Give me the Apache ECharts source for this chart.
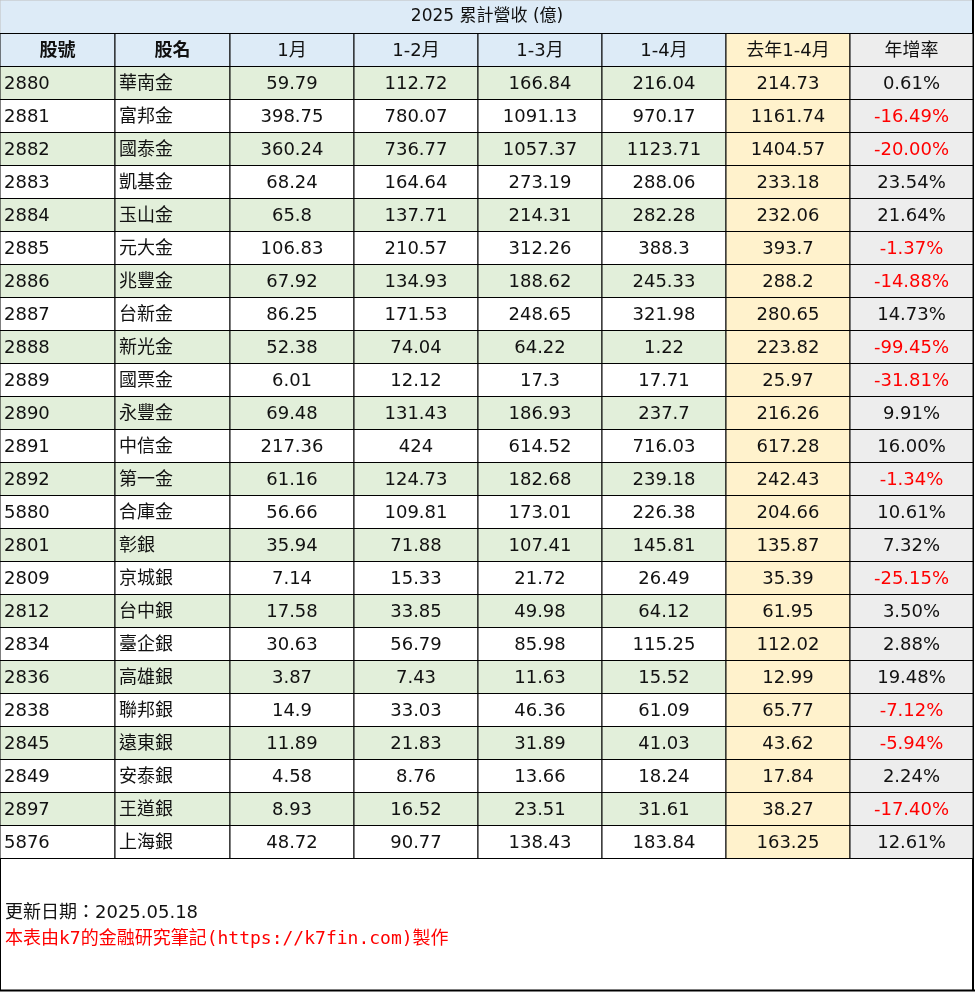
<!DOCTYPE html><html><head><meta charset="utf-8"><script src="https://cdn.jsdelivr.net/npm/echarts@6/dist/echarts.min.js"></script>
<style>html,body{margin:0;padding:0;background:#fff}#c{width:975px;height:992px}</style></head><body><div id="c"></div><script>
const title='2025 累計營收 (億)';
const headers=['股號','股名','1月','1-2月','1-3月','1-4月','去年1-4月','年增率'];
const codes=['2880','2881','2882','2883','2884','2885','2886','2887','2888','2889','2890','2891','2892','5880','2801','2809','2812','2834','2836','2838','2845','2849','2897','5876'];
const names=['華南金','富邦金','國泰金','凱基金','玉山金','元大金','兆豐金','台新金','新光金','國票金','永豐金','中信金','第一金','合庫金','彰銀','京城銀','台中銀','臺企銀','高雄銀','聯邦銀','遠東銀','安泰銀','王道銀','上海銀'];
const m1=['59.79','398.75','360.24','68.24','65.8','106.83','67.92','86.25','52.38','6.01','69.48','217.36','61.16','56.66','35.94','7.14','17.58','30.63','3.87','14.9','11.89','4.58','8.93','48.72'];
const m2=['112.72','780.07','736.77','164.64','137.71','210.57','134.93','171.53','74.04','12.12','131.43','424','124.73','109.81','71.88','15.33','33.85','56.79','7.43','33.03','21.83','8.76','16.52','90.77'];
const m3=['166.84','1091.13','1057.37','273.19','214.31','312.26','188.62','248.65','64.22','17.3','186.93','614.52','182.68','173.01','107.41','21.72','49.98','85.98','11.63','46.36','31.89','13.66','23.51','138.43'];
const m4=['216.04','970.17','1123.71','288.06','282.28','388.3','245.33','321.98','1.22','17.71','237.7','716.03','239.18','226.38','145.81','26.49','64.12','115.25','15.52','61.09','41.03','18.24','31.61','183.84'];
const prev=['214.73','1161.74','1404.57','233.18','232.06','393.7','288.2','280.65','223.82','25.97','216.26','617.28','242.43','204.66','135.87','35.39','61.95','112.02','12.99','65.77','43.62','17.84','38.27','163.25'];
const yoy=['0.61%','-16.49%','-20.00%','23.54%','21.64%','-1.37%','-14.88%','14.73%','-99.45%','-31.81%','9.91%','16.00%','-1.34%','10.61%','7.32%','-25.15%','3.50%','2.88%','19.48%','-7.12%','-5.94%','2.24%','-17.40%','12.61%'];
const footer1='更新日期：2025.05.18';
const footer2='本表由k7的金融研究筆記(https://k7fin.com)製作';

const edges=[0,115,230,354,478,602,726,850,973];
const ROWH=33, HEAD0=33.5, DATA0=66.5;
const F='"DejaVu Sans","Noto Sans CJK TC",sans-serif';
const cols=[codes,names,m1,m2,m3,m4,prev,yoy];
const cells=[];
headers.forEach((h,c)=>cells.push([c,-1,h]));
for(let r=0;r<codes.length;r++)for(let c=0;c<8;c++)cells.push([c,r,cols[c][r]]);

function bg(c,r){
  if(c===6)return '#fff2cc';
  if(c===7)return '#ededed';
  if(r===-1)return '#ddebf7';
  return r%2===0?'#e2efda':'#ffffff';
}
const chart=echarts.init(document.getElementById('c'));
chart.setOption({
  animation:false,
  grid:{left:0,right:0,top:0,bottom:0},
  xAxis:{type:'value',min:0,max:975,show:false},
  yAxis:{type:'value',min:0,max:992,inverse:true,show:false},
  series:[{
    type:'custom',
    coordinateSystem:'cartesian2d',
    data:cells,
    renderItem:(p,api)=>{
      const c=api.value(0),r=api.value(1),t=cells[p.dataIndex][2];
      const y0=r===-1?HEAD0:DATA0+r*ROWH;
      const a=api.coord([edges[c],y0]),b=api.coord([edges[c+1],y0+ROWH]);
      const left=(c<=1&&r>=0);
      const bold=r===-1&&c<2;
      const red=c===7&&t.charAt(0)==='-';
      return {type:'group',children:[
        {type:'rect',shape:{x:a[0],y:a[1],width:b[0]-a[0],height:b[1]-a[1]},style:{fill:bg(c,r),stroke:'#000',lineWidth:1}},
        {type:'text',x:left?a[0]+4:(a[0]+b[0])/2,y:(a[1]+b[1])/2+1,style:{text:t,fill:red?'#ff0000':'#111',font:(bold?'bold ':'')+'18px '+F,align:left?'left':'center',verticalAlign:'middle'}}
      ]};
    }
  }],
  graphic:[
    {type:'rect',shape:{x:0,y:0,width:973,height:33.5},style:{fill:'#ddebf7',stroke:'#c0c0c0',lineWidth:1}},
    {type:'text',x:487,y:17,style:{text:title,font:'17px '+F,fill:'#111',align:'center',verticalAlign:'middle'}},
    {type:'line',shape:{x1:0.5,y1:858,x2:0.5,y2:991},style:{stroke:'#000',lineWidth:1}},
    {type:'line',shape:{x1:973,y1:0,x2:973,y2:991},style:{stroke:'#000',lineWidth:2}},
    {type:'line',shape:{x1:0,y1:990.5,x2:975,y2:990.5},style:{stroke:'#000',lineWidth:2}},
    {type:'text',x:5,y:913,style:{text:footer1,font:'18px '+F,fill:'#111',verticalAlign:'middle'}},
    {type:'text',x:5,y:939,style:{text:footer2,font:'18px "DejaVu Sans Mono","Noto Sans CJK TC",monospace',fill:'#ff0000',verticalAlign:'middle'}}
  ]
});
</script></body></html>
